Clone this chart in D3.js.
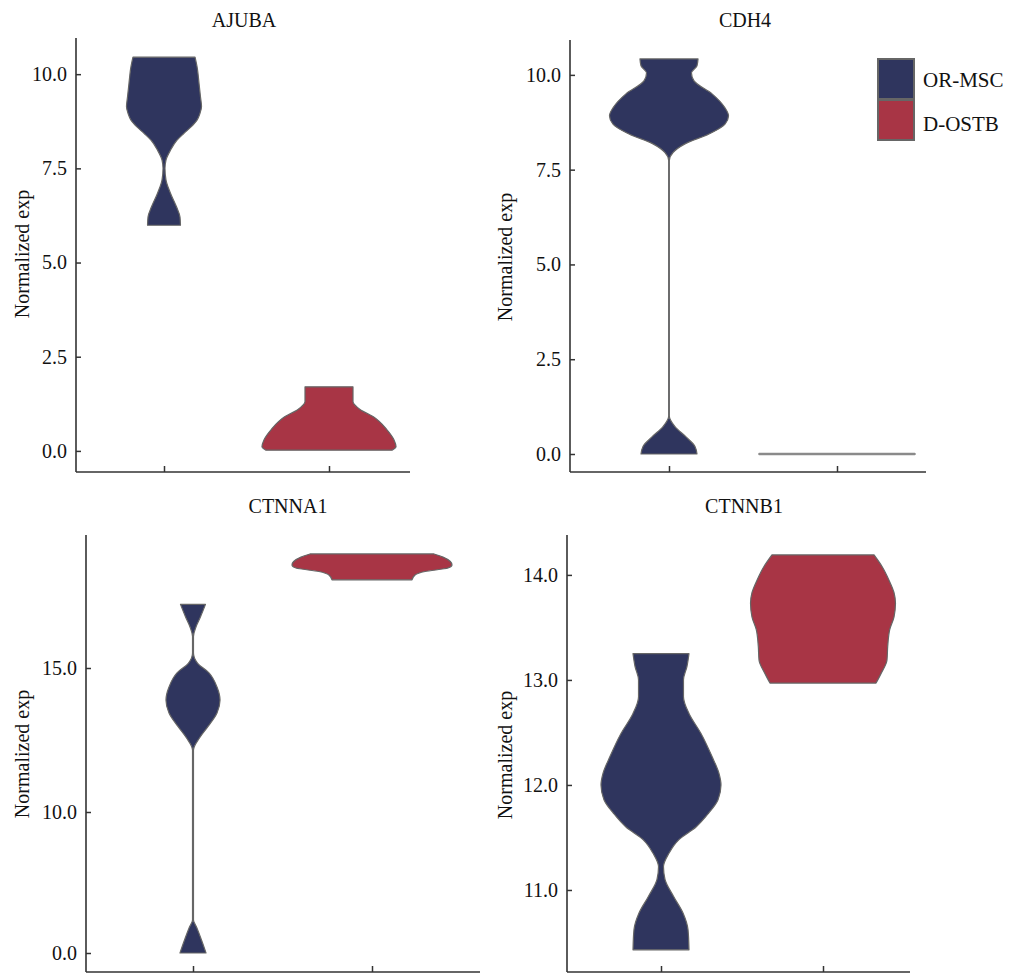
<!DOCTYPE html>
<html>
<head>
<meta charset="utf-8">
<script src="https://cdn.jsdelivr.net/npm/d3@7"></script>
<style>
  html, body { margin: 0; padding: 0; background: #fff; }
  svg { display: block; }
  text { font-family: "Liberation Serif", "DejaVu Serif", serif; fill: #111; }
</style>
</head>
<body>
<svg id="chart" width="1011" height="975"></svg>
<script>
// ---------------- DATA ----------------
const categories = ["OR-MSC", "D-OSTB"];
const genes = ["AJUBA", "CDH4", "CTNNA1", "CTNNB1"];
const colors = ["#2f355e", "#a83545"];

const yTicksAJUBA = [0, 2.5, 5, 7.5, 10];
const yTicksCDH4 = [0, 2.5, 5, 7.5, 10];
const yTicksCTNNA1 = [0, 10, 15];
const yTicksCTNNB1 = [11, 12, 13, 14];

// violin profiles: expression value and relative density (half-width fraction)
const ajubaMscValues  = [10.45, 10.2, 9.75, 9.4, 9.14, 8.96, 8.78, 8.6, 8.43, 8.25, 7.98, 7.72, 7.5, 7.19, 6.84, 6.48, 6.21, 5.99];
const ajubaMscDensity = [0.388, 0.413, 0.438, 0.456, 0.469, 0.45, 0.413, 0.338, 0.25, 0.163, 0.081, 0.025, 0.012, 0.025, 0.081, 0.156, 0.2, 0.206];
const ajubaOstbValues  = [1.7, 1.31, 1.1, 0.91, 0.56, 0.29, 0.11, 0.02];
const ajubaOstbDensity = [0.3, 0.3, 0.388, 0.55, 0.725, 0.813, 0.838, 0.788];

const cdh4MscValues  = [10.42, 10.24, 10.05, 9.84, 9.5, 9.13, 8.92, 8.7, 8.44, 8.18, 7.95, 7.74, 1.0, 0.72, 0.45, 0.2, 0.0];
const cdh4MscDensity = [0.363, 0.35, 0.281, 0.313, 0.538, 0.7, 0.744, 0.7, 0.5, 0.2, 0.05, 0.004, 0.004, 0.075, 0.213, 0.325, 0.35];
const cdh4OstbValues  = [0, 0];
const cdh4OstbDensity = [0.97, 0.97];

const ctnna1MscValues  = [17.21, 16.78, 16.43, 16.09, 15.52, 15.17, 14.83, 14.34, 13.89, 13.44, 12.97, 12.57, 12.15, 2.34, 1.84, 0.92, 0];
const ctnna1MscDensity = [0.156, 0.094, 0.038, 0.006, 0.006, 0.056, 0.2, 0.3, 0.338, 0.3, 0.188, 0.081, 0.006, 0.006, 0.044, 0.106, 0.163];
const ctnna1OstbValues  = [18.96, 18.85, 18.58, 18.47, 18.35, 18.23, 18.06];
const ctnna1OstbDensity = [0.775, 0.888, 1.0, 0.95, 0.663, 0.538, 0.5];

const ctnnb1MscValues  = [13.25, 13.13, 13.0, 12.84, 12.68, 12.49, 12.27, 12.11, 12.0, 11.86, 11.73, 11.6, 11.48, 11.35, 11.22, 11.1, 10.94, 10.78, 10.62, 10.43];
const ctnnb1MscDensity = [0.35, 0.325, 0.281, 0.281, 0.35, 0.5, 0.638, 0.725, 0.75, 0.713, 0.594, 0.438, 0.225, 0.1, 0.031, 0.05, 0.156, 0.275, 0.338, 0.35];
const ctnnb1OstbValues  = [14.19, 14.08, 13.95, 13.83, 13.73, 13.6, 13.48, 13.32, 13.19, 13.06, 12.97];
const ctnnb1OstbDensity = [0.638, 0.738, 0.825, 0.888, 0.906, 0.888, 0.834, 0.809, 0.8, 0.725, 0.663];

// ---------------- LAYOUT ----------------
const panels = [
  { gene: genes[0], left: 76, right: 410, top: 38, bottom: 472, xr: [164, 329],
    yDomain: [-0.56, 10.96], yRange: [472, 38], ticks: yTicksAJUBA,
    titleX: 244, titleY: 27, labelX: 22, labelY: 254,
    violins: [[ajubaMscValues, ajubaMscDensity], [ajubaOstbValues, ajubaOstbDensity]] },
  { gene: genes[1], left: 570, right: 926, top: 40, bottom: 472, xr: [669, 837],
    yDomain: [-0.475, 10.92], yRange: [472, 40], ticks: yTicksCDH4,
    titleX: 745, titleY: 27, labelX: 505, labelY: 257,
    violins: [[cdh4MscValues, cdh4MscDensity], [cdh4OstbValues, cdh4OstbDensity]] },
  { gene: genes[2], left: 86, right: 480, top: 535, bottom: 972, xr: [193, 372],
    yDomain: [0, 10, 15], yRange: [953, 812, 668], ticks: yTicksCTNNA1,
    titleX: 288, titleY: 513, labelX: 22, labelY: 754,
    violins: [[ctnna1MscValues, ctnna1MscDensity], [ctnna1OstbValues, ctnna1OstbDensity]] },
  { gene: genes[3], left: 567, right: 910, top: 535, bottom: 972, xr: [661, 823],
    yDomain: [10.219, 14.38], yRange: [972, 535], ticks: yTicksCTNNB1,
    titleX: 744, titleY: 513, labelX: 505, labelY: 755,
    violins: [[ctnnb1MscValues, ctnnb1MscDensity], [ctnnb1OstbValues, ctnnb1OstbDensity]] }
];

const svg = d3.select("#chart");
const wScale = d3.scaleLinear().domain([0, 1]).range([0, 80]);
const axisColor = "#333";
const fontSize = 20;

panels.forEach(p => {
  const g = svg.append("g");
  const y = d3.scaleLinear().domain(p.yDomain).range(p.yRange);
  const x = d3.scalePoint().domain(categories).range(p.xr);

  // violins
  p.violins.forEach((v, i) => {
    const [vals, dens] = v;
    const pts = vals.map((val, k) => ({ v: val, d: dens[k] }));
    const cx = x(categories[i]);
    const flat = d3.min(vals) === d3.max(vals);
    const area = d3.area()
      .y(d => y(d.v))
      .x0(d => cx - wScale(d.d))
      .x1(d => cx + wScale(d.d))
      .curve(flat ? d3.curveLinear : d3.curveMonotoneY);
    g.append("path")
      .attr("d", area(pts))
      .attr("fill", colors[i])
      .attr("stroke", flat ? "#8a8a8a" : "#666")
      .attr("stroke-width", flat ? 2.4 : 1.2)
      .attr("stroke-linejoin", "round");
  });

  // y axis
  const yAxis = d3.axisLeft(y).tickValues(p.ticks).tickFormat(d3.format(".1f"))
    .tickSizeInner(-5).tickSizeOuter(0).tickPadding(9);
  const ya = g.append("g").attr("transform", `translate(${p.left},0)`).call(yAxis);
  ya.select(".domain").remove();
  ya.selectAll(".tick line").attr("stroke", axisColor).attr("stroke-width", 1.5);
  ya.selectAll(".tick text").attr("font-size", fontSize).attr("font-family", "Liberation Serif").attr("fill", "#111");

  // x axis
  const xAxis = d3.axisBottom(x).tickFormat("").tickSizeInner(-6).tickSizeOuter(0);
  const xa = g.append("g").attr("transform", `translate(0,${p.bottom})`).call(xAxis);
  xa.select(".domain").remove();
  xa.selectAll(".tick line").attr("stroke", axisColor).attr("stroke-width", 1.5);

  // axis lines
  g.append("line").attr("x1", p.left).attr("x2", p.left).attr("y1", p.top).attr("y2", p.bottom)
    .attr("stroke", axisColor).attr("stroke-width", 1.6);
  g.append("line").attr("x1", p.left).attr("x2", p.right).attr("y1", p.bottom).attr("y2", p.bottom)
    .attr("stroke", axisColor).attr("stroke-width", 1.6);

  // title
  g.append("text").attr("x", p.titleX).attr("y", p.titleY)
    .attr("text-anchor", "middle").attr("font-size", fontSize).text(p.gene);

  // y label
  g.append("text")
    .attr("transform", `translate(${p.labelX},${p.labelY}) rotate(-90)`)
    .attr("text-anchor", "middle").attr("dy", "0.35em")
    .attr("font-size", fontSize).text("Normalized exp");
});

// legend
const legend = svg.append("g").attr("transform", "translate(878,59)");
categories.forEach((c, i) => {
  legend.append("rect")
    .attr("x", 0).attr("y", i * 41).attr("width", 36).attr("height", 40)
    .attr("fill", colors[i]).attr("stroke", "#666").attr("stroke-width", 2);
  legend.append("text")
    .attr("x", 45).attr("y", i * 44 + 28)
    .attr("font-size", 21).text(c);
});
</script>
</body>
</html>
